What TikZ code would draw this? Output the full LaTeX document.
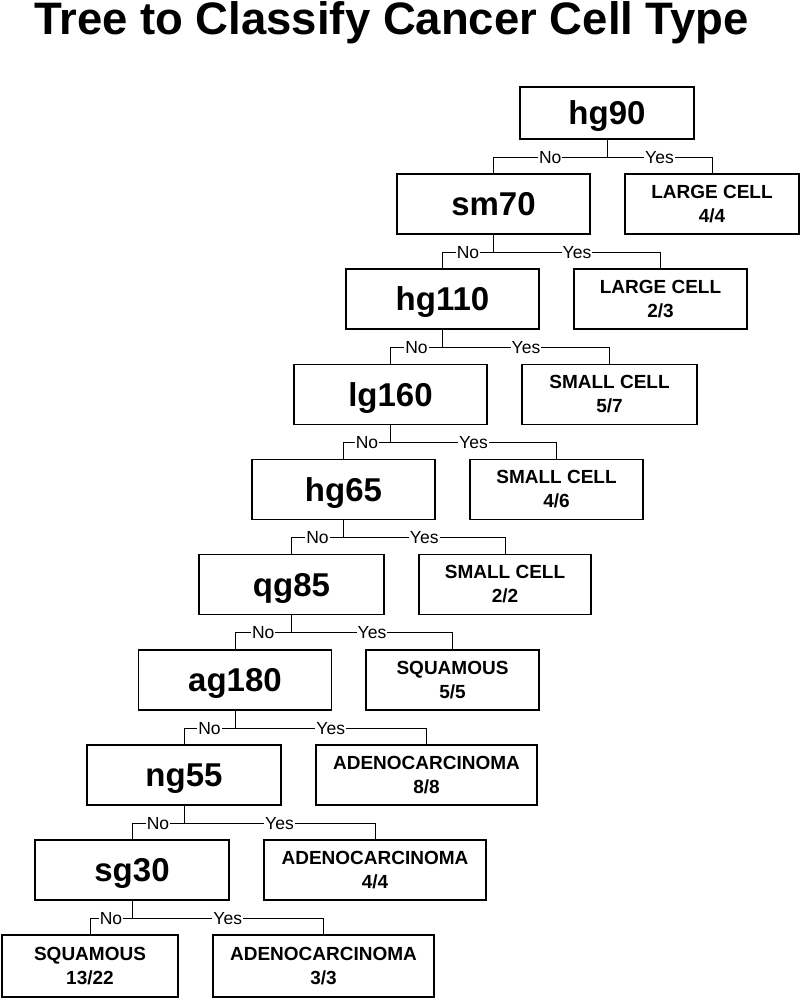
\documentclass[tikz,border=0pt]{standalone}
\usepackage{fontspec}
\setmainfont{Liberation Sans}
\begin{document}
\begin{tikzpicture}[x=1pt,y=-1pt,
		test/.style={draw,line width=1.2pt,minimum height=60pt,inner sep=0pt,font=\fontsize{33}{36}\selectfont\bfseries,text height=23.5pt,text depth=0pt},
		leaf/.style={draw,line width=1.2pt,minimum height=60pt,inner sep=0pt,align=center,font=\fontsize{19}{24}\selectfont\bfseries},
		lbl/.style={fill=white,inner sep=1pt,font=\fontsize{17.5}{20}\selectfont},
		edge/.style={line width=0.8pt}]
			
			\useasboundingbox (0,0) rectangle (800,998);
			
			% title
			\node[anchor=base,font=\fontsize{45.5}{50}\selectfont\bfseries] (title) at (391.5,35) {Tree to Classify Cancer Cell Type};
			
			% splits
			\node[test,minimum width=174pt,minimum height=52pt] (hg90) at (607,113) {hg90};
			\node[test,minimum width=193pt] (sm70) at (493.5,204) {sm70};
			\node[test,minimum width=193pt] (hg110) at (442.5,299) {hg110};
			\node[test,minimum width=193pt] (lg160) at (390.5,394.5) {lg160};
			\node[test,minimum width=183pt] (hg65) at (343.5,489.5) {hg65};
			\node[test,minimum width=185pt] (qg85) at (291.5,584.5) {qg85};
			\node[test,minimum width=193pt] (ag180) at (235,680) {ag180};
			\node[test,minimum width=194pt] (ng55) at (184,775) {ng55};
			\node[test,minimum width=194pt] (sg30) at (132,870) {sg30};
			
			% leaves
			\node[leaf,minimum width=174pt] (lc1) at (712,204) {LARGE CELL\\4/4};
			\node[leaf,minimum width=173pt] (lc2) at (660.5,299) {LARGE CELL\\2/3};
			\node[leaf,minimum width=175pt] (sc1) at (609.5,394.5) {SMALL CELL\\5/7};
			\node[leaf,minimum width=173pt] (sc2) at (556.5,489.5) {SMALL CELL\\4/6};
			\node[leaf,minimum width=172pt] (sc3) at (505,584.5) {SMALL CELL\\2/2};
			\node[leaf,minimum width=173pt] (sq1) at (452.5,680) {SQUAMOUS\\5/5};
			\node[leaf,minimum width=221pt] (ad1) at (426.5,775) {ADENOCARCINOMA\\8/8};
			\node[leaf,minimum width=222pt] (ad2) at (375,870) {ADENOCARCINOMA\\4/4};
			\node[leaf,minimum width=176pt,minimum height=62pt] (sq2) at (90,966) {SQUAMOUS\\13/22};
			\node[leaf,minimum width=221pt,minimum height=62pt] (ad3) at (323.5,966) {ADENOCARCINOMA\\3/3};
			
			% branches
			\draw[edge] (hg90.south) -- ++(0,17.5) -| node[lbl,pos=0.25] {No} (sm70.north);
			\draw[edge] (hg90.south) -- ++(0,17.5) -| node[lbl,pos=0.25] {Yes} (lc1.north);
			
			\draw[edge] (sm70.south) -- ++(0,17.5) -| node[lbl,pos=0.25] {No} (hg110.north);
			\draw[edge] (sm70.south) -- ++(0,17.5) -| node[lbl,pos=0.25] {Yes} (lc2.north);
			
			\draw[edge] (hg110.south) -- ++(0,17.5) -| node[lbl,pos=0.25] {No} (lg160.north);
			\draw[edge] (hg110.south) -- ++(0,17.5) -| node[lbl,pos=0.25] {Yes} (sc1.north);
			
			\draw[edge] (lg160.south) -- ++(0,17.5) -| node[lbl,pos=0.25] {No} (hg65.north);
			\draw[edge] (lg160.south) -- ++(0,17.5) -| node[lbl,pos=0.25] {Yes} (sc2.north);
			
			\draw[edge] (hg65.south) -- ++(0,17.5) -| node[lbl,pos=0.25] {No} (qg85.north);
			\draw[edge] (hg65.south) -- ++(0,17.5) -| node[lbl,pos=0.25] {Yes} (sc3.north);
			
			\draw[edge] (qg85.south) -- ++(0,17.5) -| node[lbl,pos=0.25] {No} (ag180.north);
			\draw[edge] (qg85.south) -- ++(0,17.5) -| node[lbl,pos=0.25] {Yes} (sq1.north);
			
			\draw[edge] (ag180.south) -- ++(0,17.5) -| node[lbl,pos=0.25] {No} (ng55.north);
			\draw[edge] (ag180.south) -- ++(0,17.5) -| node[lbl,pos=0.25] {Yes} (ad1.north);
			
			\draw[edge] (ng55.south) -- ++(0,17.5) -| node[lbl,pos=0.25] {No} (sg30.north);
			\draw[edge] (ng55.south) -- ++(0,17.5) -| node[lbl,pos=0.25] {Yes} (ad2.north);
			
			\draw[edge] (sg30.south) -- ++(0,17.5) -| node[lbl,pos=0.25] {No} (sq2.north);
			\draw[edge] (sg30.south) -- ++(0,17.5) -| node[lbl,pos=0.25] {Yes} (ad3.north);
			
		\end{tikzpicture}
\end{document}
